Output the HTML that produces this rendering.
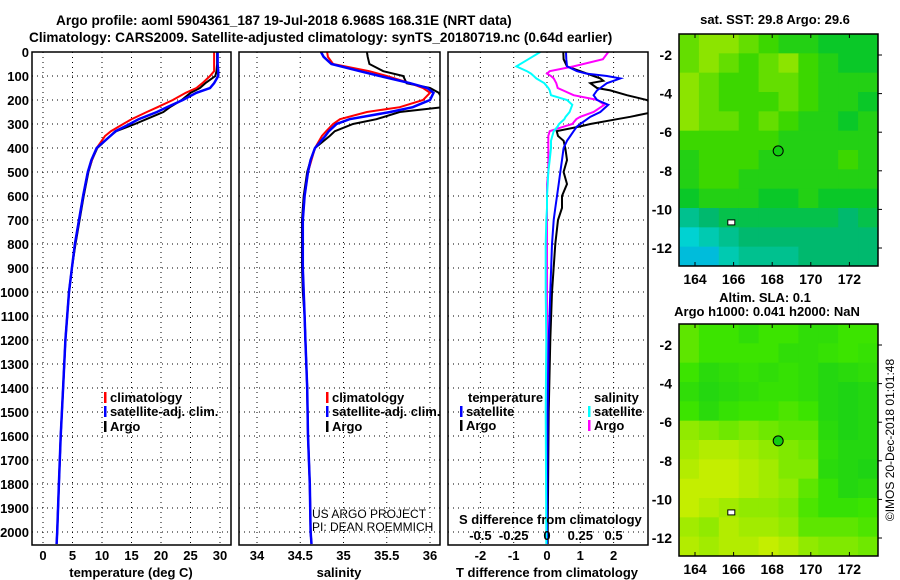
<!DOCTYPE html>
<html><head><meta charset="utf-8"><style>
html,body{margin:0;padding:0;background:#fff;}
svg{display:block;font-family:"Liberation Sans",sans-serif;font-weight:bold;}
</style></head><body>
<svg id="fig" width="900" height="580" viewBox="0 0 900 580" xmlns="http://www.w3.org/2000/svg">
<rect width="900" height="580" fill="#fff"/>
<text x="56" y="25" font-size="13.6">Argo profile: aoml 5904361_187 19-Jul-2018 6.968S 168.31E (NRT data)</text>
<text x="29" y="42" font-size="13.6">Climatology: CARS2009. Satellite-adjusted climatology: synTS_20180719.nc (0.64d earlier)</text>
<g id="plots"></g>
</svg>
<script>
// ---- data ----
const depths   = [0,20,50,80,100,130,150,170,200,230,250,280,300,330,350,400,450,500,600,700,800,900,1000,1100,1200,1400,1600,1800,2000,2050];
const tempClim = [29.0,29.0,29.0,29.0,28.3,27.0,26.0,24.2,22.0,19.4,17.6,15.0,13.6,11.5,10.5,9.1,8.3,7.6,6.8,6.1,5.4,4.9,4.4,4.1,3.8,3.4,3.0,2.7,2.4,2.3];
const tempSat  = [29.6,29.6,29.6,29.7,29.7,29.0,28.3,26.0,23.7,21.0,19.3,16.2,14.7,12.3,11.4,9.1,8.2,7.6,6.8,6.1,5.4,4.9,4.4,4.1,3.8,3.4,3.0,2.7,2.4,2.3];
const tempArgo = [29.5,29.5,29.5,29.4,29.2,27.5,26.6,25.0,23.5,21.5,20.4,17.5,15.6,12.4,11.4,9.2,8.3,7.7,6.9,6.2,5.5,4.9,4.4,4.1,3.8,3.4,3.0,2.7,2.4,2.3];
const salClim  = [34.81,34.82,34.88,35.30,35.50,35.77,35.92,36.00,35.92,35.65,35.27,34.96,34.88,34.80,34.75,34.67,34.63,34.59,34.55,34.53,34.53,34.53,34.54,34.55,34.56,34.58,34.59,34.61,34.62,34.63];
const salSat   = [34.74,34.77,34.86,35.19,35.42,35.77,35.97,36.04,36.00,35.80,35.54,35.07,34.92,34.83,34.79,34.67,34.62,34.59,34.55,34.53,34.53,34.53,34.54,34.55,34.56,34.58,34.59,34.61,34.62,34.63];
const salArgo  = [35.27,35.28,35.30,35.46,35.69,35.73,36.00,36.10,36.15,36.15,35.65,35.38,35.11,34.90,34.84,34.67,34.62,34.58,34.54,34.52,34.52,34.52,34.53,34.55,34.56,34.58,34.59,34.61,34.62,34.63];
const diffDepths = [0,30,60,80,90,100,110,120,130,150,160,180,200,220,250,270,280,300,310,330,350,370,400,450,500,550,600,650,700,800,1000,1200,1500,2000,2050];
const dTSat  = [0.57,0.58,0.6,0.9,1.19,1.8,2.2,2.0,1.8,1.6,1.5,1.4,1.5,1.84,1.6,1.3,1.2,1.0,0.9,0.8,0.7,0.6,0.5,0.45,0.4,0.35,0.3,0.25,0.2,0.15,0.1,0.05,0.02,0.0,0.0];
const dTArgo = [0.49,0.5,0.6,1.0,1.2,1.4,1.6,1.69,1.3,1.5,1.9,2.4,3.0,3.2,3.2,2.5,2.1,1.3,1.0,0.29,0.33,0.5,0.55,0.6,0.5,0.6,0.45,0.45,0.33,0.25,0.15,0.1,0.05,0.02,0.02];
const dSSat  = [-0.05,-0.14,-0.23,-0.15,-0.12,-0.1,-0.08,-0.05,-0.02,0.01,0.02,0.03,0.15,0.19,0.17,0.14,0.13,0.09,0.08,0.05,0.04,0.03,0.03,0.02,0.01,0.005,0,0,-0.005,-0.01,-0.01,-0.005,-0.01,-0.005,-0.005];
const dSArgo = [0.46,0.42,0.2,0.02,0.0,0.03,0.05,0.06,0.07,0.08,0.12,0.2,0.38,0.43,0.35,0.25,0.22,0.19,0.13,0.02,0.01,0.01,0.01,0.01,0.01,0,0,0,0,0,0,0,0,0,0];
const depthTicks = [0,100,200,300,400,500,600,700,800,900,1000,1100,1200,1300,1400,1500,1600,1700,1800,1900,2000];
const tempTicks = [0,5,10,15,20,25,30];
const salTicks = [34,34.5,35,35.5,36];
const salTickLabels = ["34","34.5","35","35.5","36"];
const tdTicks = [-2,-1,0,1,2];
const sdTicks = [-0.5,-0.25,0,0.25,0.5];
const sdTickLabels = ["-0.5","-0.25","0","0.25","0.5"];
const lonTicks = [164,166,168,170,172];
const latTicks = [-2,-4,-6,-8,-10,-12];
const sstGrid = [
[0.65,0.7,0.7,0.65,0.6,0.55,0.55,0.5,0.5,0.5],
[0.65,0.7,0.65,0.6,0.65,0.7,0.6,0.55,0.5,0.5],
[0.7,0.65,0.6,0.6,0.65,0.65,0.6,0.55,0.55,0.55],
[0.7,0.65,0.6,0.6,0.6,0.65,0.6,0.55,0.55,0.5],
[0.7,0.65,0.65,0.6,0.65,0.6,0.55,0.55,0.5,0.55],
[0.6,0.6,0.6,0.6,0.6,0.55,0.55,0.55,0.55,0.55],
[0.55,0.6,0.6,0.6,0.55,0.55,0.55,0.55,0.6,0.55],
[0.55,0.6,0.6,0.55,0.55,0.55,0.55,0.55,0.55,0.55],
[0.5,0.55,0.55,0.55,0.5,0.5,0.55,0.5,0.5,0.5],
[0.35,0.4,0.45,0.45,0.45,0.45,0.45,0.45,0.4,0.45],
[0.25,0.3,0.35,0.4,0.4,0.4,0.4,0.4,0.4,0.4],
[0.2,0.2,0.3,0.35,0.35,0.35,0.4,0.4,0.4,0.4]];
const slaGrid = [
[0.6,0.5,0.5,0.4,0.5,0.5,0.4,0.4,0.5,0.5],
[0.6,0.5,0.5,0.5,0.5,0.4,0.4,0.45,0.5,0.45],
[0.5,0.35,0.4,0.45,0.4,0.45,0.4,0.3,0.35,0.4],
[0.4,0.3,0.35,0.4,0.45,0.45,0.4,0.3,0.25,0.3],
[0.5,0.35,0.45,0.5,0.5,0.55,0.5,0.3,0.25,0.3],
[0.75,0.7,0.65,0.7,0.65,0.6,0.6,0.35,0.25,0.3],
[0.8,0.85,0.85,0.8,0.75,0.7,0.65,0.4,0.3,0.3],
[0.85,0.9,0.9,0.85,0.8,0.7,0.7,0.35,0.3,0.25],
[0.9,0.9,0.9,0.85,0.8,0.75,0.6,0.45,0.3,0.35],
[0.9,0.85,0.8,0.75,0.75,0.7,0.55,0.45,0.45,0.5],
[0.8,0.75,0.85,0.8,0.8,0.75,0.6,0.6,0.6,0.55],
[0.85,0.8,0.85,0.85,0.9,0.85,0.75,0.7,0.7,0.65]];
const argoLon = 168.31, argoLat = -6.968;

// ---- helpers ----
const NS="http://www.w3.org/2000/svg";
const root=document.getElementById('plots');
function mk(tag,attrs,parent){const e=document.createElementNS(NS,tag);for(const k in attrs)e.setAttribute(k,attrs[k]);(parent||root).appendChild(e);return e;}
const TOP=52, BOT=545;
const yD=d=>TOP+d*0.24;
const xT=t=>43+t*5.9;
const xS=s=>257+(s-34)*86.5;
const xTD=t=>547+t*33.3;
const xSD=s=>547+s*133.2;
const panels=[{x0:32,x1:231,xs:tempTicks.map(xT),id:'temperature'},{x0:239,x1:440,xs:salTicks.map(xS),id:'salinity'},{x0:448,x1:648,xs:tdTicks.map(xTD),id:'difference'}];
panels.forEach(p=>{
  const g=mk('g',{});
  
  
  const cp=mk('clipPath',{id:'clip-'+p.id},g);mk('rect',{x:p.x0,y:TOP,width:p.x1-p.x0,height:BOT-TOP},cp);
  depthTicks.forEach(d=>{const l=mk('line',{x1:p.x0,x2:p.x1,y1:yD(d),y2:yD(d),stroke:'#000','stroke-width':1,'stroke-dasharray':'1,4'},g);
    });
  p.xs.forEach(x=>{const l=mk('line',{x1:x,x2:x,y1:TOP,y2:BOT,stroke:'#000','stroke-width':1,'stroke-dasharray':'1,4'},g);
    });
  p.g=g;
});
function frame(p){const r=mk('rect',{x:p.x0,y:TOP,width:p.x1-p.x0,height:BOT-TOP,fill:'none',stroke:'#000','stroke-width':1.5});
  }
function line(vals,xf,ds,color,w,name,clip){
  const pts=vals.map((v,i)=>xf(v).toFixed(1)+','+yD(ds[i]).toFixed(1)).join(' ');
  const e=mk('polyline',{points:pts,fill:'none',stroke:color,'stroke-width':w,'clip-path':'url(#clip-'+clip+')'});
  
  
}
line(tempArgo,xT,depths,'#000',2,'temp-argo-line','temperature');
line(tempClim,xT,depths,'#f00',2,'temp-climatology-line','temperature');
line(tempSat,xT,depths,'#00f',2.5,'temp-satellite-line','temperature');
line(salArgo,xS,depths,'#000',2,'sal-argo-line','salinity');
line(salClim,xS,depths,'#f00',2,'sal-climatology-line','salinity');
line(salSat,xS,depths,'#00f',2.5,'sal-satellite-line','salinity');
line(dTArgo,xTD,diffDepths,'#000',2,'tdiff-argo-line','difference');
line(dSArgo,xSD,diffDepths,'#f0f',2,'sdiff-argo-line','difference');
line(dTSat,xTD,diffDepths,'#00f',2,'tdiff-satellite-line','difference');
line(dSSat,xSD,diffDepths,'#0ff',2,'sdiff-satellite-line','difference');
panels.forEach(frame);

function txt(x,y,s,opts,name){const o=Object.assign({x:x,y:y,'font-size':13},opts||{});const e=mk('text',o);e.textContent=s;
  return e;}
depthTicks.forEach(d=>txt(29,yD(d)+5,String(d),{'text-anchor':'end'},'depth-tick-label'));
tempTicks.forEach(t=>txt(xT(t),560,String(t),{'text-anchor':'middle'},'temp-tick-label'));
salTicks.forEach((s,i)=>txt(xS(s),560,salTickLabels[i],{'text-anchor':'middle'},'sal-tick-label'));
tdTicks.forEach(t=>txt(xTD(t),560,String(t),{'text-anchor':'middle'},'tdiff-tick-label'));
sdTicks.forEach((s,i)=>txt(xSD(s),540,sdTickLabels[i],{'text-anchor':'middle'},'sdiff-tick-label'));
txt(131,577,'temperature (deg C)',{'text-anchor':'middle'},'temp-axis-title');
txt(339,577,'salinity',{'text-anchor':'middle'},'sal-axis-title');
txt(547,577,'T difference from climatology',{'text-anchor':'middle'},'tdiff-axis-title');
txt(459,524,'S difference from climatology',{},'sdiff-axis-title');
txt(312,518,'US ARGO PROJECT',{'font-weight':'normal','font-size':12},'project-label');
txt(312,531,'PI: DEAN ROEMMICH',{'font-weight':'normal','font-size':12},'pi-label');
function leg(x,y,c,s,name){const r=mk('rect',{x:x,y:y-10,width:2.5,height:11,fill:c});
  txt(x+6,y,s,{},name);}
leg(104,402,'#f00','climatology','legend-climatology');
leg(104,416,'#00f','satellite-adj. clim.','legend-satellite');
leg(104,431,'#000','Argo','legend-argo');
leg(326,402,'#f00','climatology','legend-sal-climatology');
leg(326,416,'#00f','satellite-adj. clim.','legend-sal-satellite');
leg(326,431,'#000','Argo','legend-sal-argo');
txt(468,402,'temperature',{},'legend-temperature-header');
leg(460,416,'#00f','satellite','legend-t-satellite');
leg(460,430,'#000','Argo','legend-t-argo');
txt(594,402,'salinity',{},'legend-salinity-header');
leg(588,416,'#0ff','satellite','legend-s-satellite');
leg(588,430,'#f0f','Argo','legend-s-argo');

// ---- maps ----
const MX0=679,MX1=878,lonX=l=>695+(l-164)*19.3;
function lerp(a,b,t){return a.map((v,i)=>Math.round(v+(b[i]-v)*t));}
function cmap(stops,v){for(let i=1;i<stops.length;i++){if(v<=stops[i][0]){const t=(v-stops[i-1][0])/(stops[i][0]-stops[i-1][0]);const c=lerp(stops[i-1][1],stops[i][1],t);return 'rgb('+c.join(',')+')';}}return 'rgb('+stops[stops.length-1][1].join(',')+')';}
const sstStops=[[0,[0,100,255]],[0.25,[0,210,210]],[0.4,[0,185,110]],[0.5,[10,200,40]],[0.6,[60,215,0]],[0.7,[140,228,0]],[1,[230,230,0]]];
const slaStops=[[0,[0,195,40]],[0.5,[60,228,0]],[1,[230,240,0]]];
function drawMap(top,grid,stops,name,title1,title2){
  const MY0=top,MY1=top+232,latY=la=>top+21+(-2-la)*19.3;
  const g=mk('g',{});
  const rows=grid.length,cols=grid[0].length,cw=(MX1-MX0)/cols,rh=(MY1-MY0)/rows;
  grid.forEach((row,r)=>row.forEach((v,c)=>{const e=mk('rect',{x:MX0+c*cw,y:MY0+r*rh,width:cw+0.5,height:rh+0.5,fill:cmap(stops,v)},g);
    }));
  const cr=mk('circle',{cx:lonX(argoLon),cy:latY(argoLat),r:5,fill:'#1c1',stroke:'#000','stroke-width':1},g);
  
  const isl=mk('rect',{x:lonX(165.7),y:latY(-10.7)-3,width:7,height:5,fill:'#fff',stroke:'#000'},g);
  
  const fr=mk('rect',{x:MX0,y:MY0,width:MX1-MX0,height:MY1-MY0,fill:'none',stroke:'#000','stroke-width':1.5},g);
  
  lonTicks.forEach(l=>{txt(lonX(l),MY1+18,String(l),{'text-anchor':'middle','font-size':14},'lon-tick-label');
    mk('line',{x1:lonX(l),x2:lonX(l),y1:MY1,y2:MY1-4,stroke:'#000'},g);mk('line',{x1:lonX(l),x2:lonX(l),y1:MY0,y2:MY0+4,stroke:'#000'},g);});
  latTicks.forEach(la=>{txt(672,latY(la)+5,String(la),{'text-anchor':'end','font-size':14},'lat-tick-label');
    mk('line',{x1:MX1,x2:MX1+4,y1:latY(la),y2:latY(la),stroke:'#000'},g);});
  if(title2){txt(765,top-22,title1,{'text-anchor':'middle'},name+'-title');txt(767,top-8,title2,{'text-anchor':'middle'},name+'-subtitle');}
  else txt(775,top-10,title1,{'text-anchor':'middle'},name+'-title');
}
drawMap(34,sstGrid,sstStops,'sst-map','sat. SST: 29.8 Argo: 29.6');
drawMap(324,slaGrid,slaStops,'sla-map','Altim. SLA: 0.1','Argo h1000: 0.041 h2000: NaN');
const cp=txt(894,440,'©IMOS 20-Dec-2018 01:01:48',{'text-anchor':'middle','font-weight':'normal','font-size':12,transform:'rotate(-90 894 440)'},'copyright-label');
</script>
</body></html>
